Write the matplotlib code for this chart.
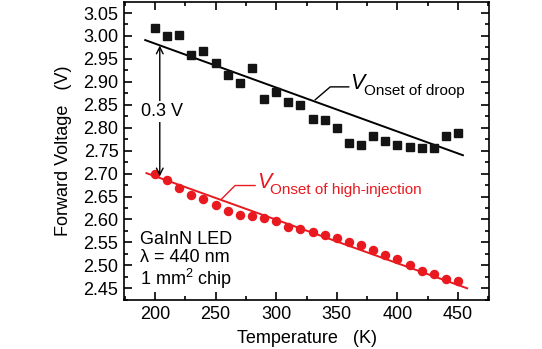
import matplotlib
matplotlib.use("Agg")
import matplotlib.pyplot as plt
from matplotlib.ticker import MultipleLocator
import numpy as np

plt.rcParams['font.family'] = ['Liberation Sans', 'DejaVu Sans']
plt.rcParams['mathtext.fontset'] = 'custom'
plt.rcParams['mathtext.rm'] = 'Liberation Sans'
plt.rcParams['mathtext.it'] = 'Liberation Sans:italic'

# Temperature sweep (K)
temperature = [200, 210, 220, 230, 240, 250, 260, 270, 280, 290, 300, 310, 320,
               330, 340, 350, 360, 370, 380, 390, 400, 410, 420, 430, 440, 450]

# Forward voltage at onset of efficiency droop (V)
v_droop = [3.018, 2.999, 3.003, 2.958, 2.968, 2.940, 2.915, 2.898, 2.930, 2.862,
           2.878, 2.856, 2.849, 2.819, 2.816, 2.799, 2.767, 2.763, 2.781, 2.771,
           2.763, 2.757, 2.755, 2.755, 2.783, 2.789]

# Forward voltage at onset of high injection (V)
v_high_inj = [2.700, 2.686, 2.668, 2.654, 2.645, 2.632, 2.618, 2.610, 2.608, 2.604,
              2.596, 2.584, 2.580, 2.572, 2.566, 2.560, 2.550, 2.544, 2.534, 2.522,
              2.514, 2.500, 2.488, 2.482, 2.471, 2.466]

# Linear trend lines (end points: temperature, voltage)
droop_fit_T = [192, 454]
droop_fit_V = [2.991, 2.740]
hi_fit_T = [193, 457.5]
hi_fit_V = [2.701, 2.450]

red = '#e8191f'

fig = plt.figure(figsize=(5.42, 3.49), dpi=100)
ax = fig.add_axes([0.2288, 0.1404, 0.6734, 0.8539])

ax.plot(droop_fit_T, droop_fit_V, color='black', lw=1.4, zorder=2)
ax.plot(hi_fit_T, hi_fit_V, color=red, lw=1.4, zorder=2)
ax.plot(temperature, v_droop, ls='none', marker='s', ms=5.4, color='#141414', zorder=3)
ax.plot(temperature, v_high_inj, ls='none', marker='o', ms=5.8, color=red, zorder=3)

ax.set_xlim(174.5, 475.5)
ax.set_ylim(2.4245, 3.074)

ax.xaxis.set_major_locator(MultipleLocator(50))
ax.xaxis.set_minor_locator(MultipleLocator(25))
ax.yaxis.set_major_locator(MultipleLocator(0.05))
ax.yaxis.set_minor_locator(MultipleLocator(0.025))
ax.yaxis.set_major_formatter(matplotlib.ticker.FormatStrFormatter('%.2f'))
ax.tick_params(which='both', direction='in', top=True, right=True, width=1.2,
               labelsize=13, pad=4)
ax.tick_params(which='major', length=5.5)
ax.tick_params(which='minor', length=3)
for s in ax.spines.values():
    s.set_linewidth(1.2)

ax.set_xlabel('Temperature   (K)', fontsize=13, labelpad=5.5)
ax.set_ylabel('Forward Voltage   (V)', fontsize=13, labelpad=8)

# 0.3 V separation arrow
ax.annotate('', xy=(204, 2.694), xytext=(204, 2.979),
            arrowprops=dict(arrowstyle='<->', color='black', lw=1.0,
                            shrinkA=0, shrinkB=0, mutation_scale=12))
ax.text(206, 2.835, '0.3 V', fontsize=13, ha='center', va='center',
        bbox=dict(facecolor='white', edgecolor='none', pad=1.5), zorder=4)

# Leader lines and labels
ax.plot([332.2, 344.6, 359.8], [2.861, 2.889, 2.889], color='black', lw=1.0)
ax.text(361, 2.884, 'V', fontsize=15.5, style='italic', ha='left', va='baseline')
ax.annotate('Onset of droop', xy=(361, 2.884), xytext=(9.8, -4.2),
            textcoords='offset points', fontsize=11, ha='left', va='baseline')

ax.plot([255.1, 266.1, 282.6], [2.645, 2.674, 2.674], color=red, lw=1.0)
ax.text(284, 2.669, 'V', fontsize=15.5, style='italic', ha='left', va='baseline',
        color=red)
ax.annotate('Onset of high-injection', xy=(284, 2.669), xytext=(9.8, -4.2),
            textcoords='offset points', fontsize=11, ha='left', va='baseline',
            color=red)

ax.text(187.5, 2.574, 'GaInN LED\nλ = 440 nm\n1 mm$^2$ chip', fontsize=13,
        ha='left', va='top', linespacing=1.05)

fig.savefig('out.png', dpi=100)
